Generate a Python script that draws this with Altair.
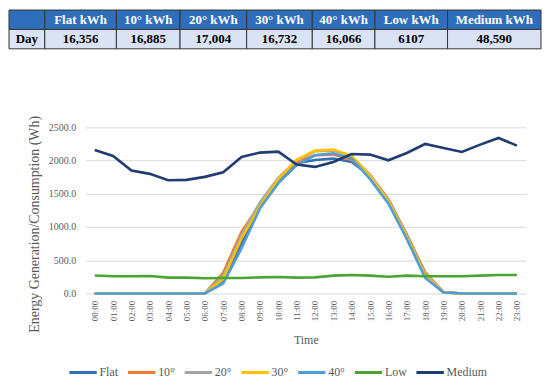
import altair as alt
import pandas as pd

# ---------------- data ----------------
hours = ["00:00", "01:00", "02:00", "03:00", "04:00", "05:00", "06:00", "07:00",
         "08:00", "09:00", "10:00", "11:00", "12:00", "13:00", "14:00", "15:00",
         "16:00", "17:00", "18:00", "19:00", "20:00", "21:00", "22:00", "23:00"]

series_names = ["Flat", "10°", "20°", "30°", "40°", "Low", "Medium"]

flat = [0, 0, 0, 0, 0, 0, 0, 200, 760, 1320, 1700, 1960, 2010, 2030, 1980, 1770, 1410, 880, 290, 20, 0, 0, 0, 0]
deg10 = [0, 0, 0, 0, 0, 0, 0, 315, 930, 1340, 1730, 1980, 2080, 2090, 2010, 1770, 1420, 890, 320, 20, 0, 0, 0, 0]
deg20 = [0, 0, 0, 0, 0, 0, 0, 270, 880, 1370, 1740, 2000, 2140, 2150, 2060, 1790, 1420, 880, 300, 20, 0, 0, 0, 0]
deg30 = [0, 0, 0, 0, 0, 0, 0, 220, 830, 1310, 1720, 2010, 2150, 2165, 2070, 1770, 1390, 850, 270, 15, 0, 0, 0, 0]
deg40 = [0, 0, 0, 0, 0, 0, 0, 150, 680, 1280, 1660, 1930, 2080, 2110, 2030, 1720, 1350, 820, 235, 15, 0, 0, 0, 0]
low = [270, 258, 258, 262, 238, 238, 228, 232, 232, 242, 248, 238, 242, 268, 278, 268, 252, 268, 258, 258, 258, 268, 278, 278]
medium = [2160, 2070, 1850, 1800, 1705, 1710, 1755, 1825, 2055, 2120, 2135, 1940, 1905, 1980, 2100, 2090, 2005, 2115, 2250, 2190, 2130, 2240, 2340, 2225]

y_ticks = [0, 500, 1000, 1500, 2000, 2500]

table_headers = ["", "Flat kWh", "10° kWh", "20° kWh", "30° kWh", "40° kWh", "Low kWh", "Medium kWh"]
row_label = "Day"
day_totals = ["16,356", "16,885", "17,004", "16,732", "16,066", "6107", "48,590"]

# ---------------- style / layout ----------------
FONT = "Liberation Serif"
GRAY = "#595959"
colors = ["#3470BA", "#ED7D31", "#A5A5A5", "#FFC000", "#4E9FD8", "#4AA532", "#1F3D73"]
HEADER_FILL = "#2F6EBA"
ROW_FILL = "#DAE3F3"
col_widths = [36, 72, 64, 67, 66, 63, 73, 94]

# ---------------- line data ----------------
rows = []
for name, vals in zip(series_names, [flat, deg10, deg20, deg30, deg40, low, medium]):
    for t, v in zip(hours, vals):
        rows.append({"Time": t, "Series": name, "Wh": v})
df = pd.DataFrame(rows)

# ---------------- table data ----------------
trows = []
left = 0
row_texts = [table_headers, [row_label] + day_totals]
for i, w in enumerate(col_widths):
    for r in range(2):
        trows.append({
            "x0": left, "x1": left + w, "xm": left + w / 2,
            "r0": r, "r1": r + 1, "rm": r + 0.5,
            "label": row_texts[r][i],
            "fill": HEADER_FILL if r == 0 else ROW_FILL,
            "tcolor": "#FFFFFF" if r == 0 else "#000000",
        })
    left += w
tdf = pd.DataFrame(trows)
total_w = sum(col_widths)

tx = alt.Scale(domain=[0, total_w], range=[-77, 458])
ty = alt.Scale(domain=[0, 2], range=[-118, -79])

lines = alt.Chart(df).mark_line(strokeWidth=2.6).encode(
    x=alt.X("Time:O", sort=hours, scale=alt.Scale(type="point", padding=0.5),
            axis=alt.Axis(title="Time", labelAngle=270, labelPadding=7, labelFontSize=9,
                          titleFontSize=12, titlePadding=14, domain=False, ticks=False, grid=False)),
    y=alt.Y("Wh:Q", scale=alt.Scale(domain=[0, 2500]),
            axis=alt.Axis(title="Energy Generation/Consumption (Wh)", values=y_ticks, format=".1f",
                          labelFontSize=10, labelPadding=10, titleFontSize=14, titlePadding=7,
                          titleY=97,
                          domain=False, ticks=False, grid=True, gridColor="#D9D9D9")),
    color=alt.Color("Series:N", sort=series_names,
                    scale=alt.Scale(domain=series_names, range=colors),
                    legend=alt.Legend(title=None, orient="none", legendX=-18, legendY=231,
                                      direction="horizontal", columns=7, symbolType="stroke",
                                      symbolStrokeWidth=3, symbolSize=760, labelFont=FONT,
                                      labelFontSize=12, labelColor=GRAY, labelOffset=1,
                                      columnPadding=3, gridAlign="none")),
)

rect = alt.Chart(tdf).mark_rect(stroke="#333333", strokeWidth=1).encode(
    x=alt.X("x0:Q", scale=tx, axis=None),
    x2="x1:Q",
    y=alt.Y("r0:Q", scale=ty, axis=None),
    y2="r1:Q",
    fill=alt.Fill("fill:N", scale=None),
)

text = alt.Chart(tdf).mark_text(font=FONT, fontWeight="bold", fontSize=13, baseline="middle").encode(
    x=alt.X("xm:Q", scale=tx, axis=None),
    y=alt.Y("rm:Q", scale=ty, axis=None),
    text="label:N",
    color=alt.Color("tcolor:N", scale=None),
)

chart = alt.layer(lines, rect, text).resolve_scale(
    x="independent", y="independent", color="independent", fill="independent"
).properties(width=443, height=167, padding=0).configure_view(stroke=None).configure_axis(
    labelFont=FONT, titleFont=FONT, labelColor=GRAY, titleColor=GRAY, titleFontWeight="normal"
)

chart.save("out.html", embed_options={"renderer": "svg", "actions": False})
